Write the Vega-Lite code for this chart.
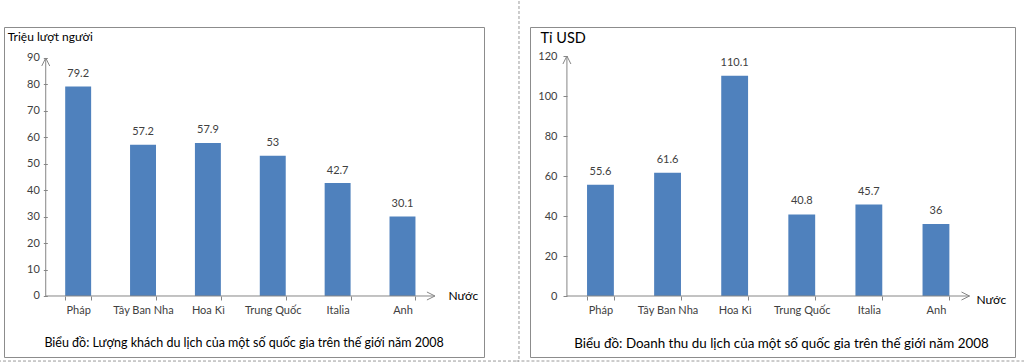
{
  "$schema": "https://vega.github.io/schema/vega-lite/v6.json",
  "padding": {"left": -4, "top": 0, "right": 0, "bottom": 0},
  "background": "white",
  "spacing": 46,
  "bounds": "flush",
  "config": {
    "font": "Lato",
    "view": {"stroke": "#8c8c8c", "strokeWidth": 1},
    "axis": {
      "labelFont": "Lato", "labelColor": "#404040", "labelFontSize": 11,
      "tickColor": "#868686", "tickSize": 4, "domain": false, "grid": false,
      "titleFont": "Lato", "titleFontWeight": "normal", "titleColor": "#000000", "titleFontSize": 12,
      "titleAngle": 0, "titleAlign": "left", "titleBaseline": "middle"
    },
    "title": {"font": "Lato", "fontSize": 12.5, "fontWeight": "normal", "color": "#000000", "orient": "bottom", "frame": "group", "anchor": "middle", "baseline": "middle"}
  },
  "datasets": {
    "khach": [
      {"country": "Pháp", "value": 79.2},
      {"country": "Tây Ban Nha", "value": 57.2},
      {"country": "Hoa Kì", "value": 57.9},
      {"country": "Trung Quốc", "value": 53},
      {"country": "Italia", "value": 42.7},
      {"country": "Anh", "value": 30.1}
    ],
    "thu": [
      {"country": "Pháp", "value": 55.6},
      {"country": "Tây Ban Nha", "value": 61.6},
      {"country": "Hoa Kì", "value": 110.1},
      {"country": "Trung Quốc", "value": 40.8},
      {"country": "Italia", "value": 45.7},
      {"country": "Anh", "value": 36}
    ],
    "one": [{}]
  },
  "hconcat": [
    {
      "width": 480,
      "height": 330,
      "title": {"text": "Biểu đồ: Lượng khách du lịch của một số quốc gia trên thế giới năm 2008", "offset": -25},
      "encoding": {
        "x": {"field": "country", "type": "nominal", "sort": null,
          "scale": {"domain": ["Pháp", "Tây Ban Nha", "Hoa Kì", "Trung Quốc", "Italia", "Anh"], "paddingInner": 0.6, "paddingOuter": 1.0326, "align": 0.4717},
          "axis": {"orient": "bottom", "offset": -61, "tickBand": "extent", "labelAngle": 0, "labelPadding": 4,
            "title": "Nước", "titleX": 444, "titleY": -1}},
        "y": {"type": "quantitative",
          "scale": {"domain": [-23.07, 101.72], "nice": false, "zero": false},
          "axis": {"orient": "left", "offset": -43.3, "values": [0, 10, 20, 30, 40, 50, 60, 70, 80, 90], "labelPadding": 4,
            "title": "Triệu lượt người", "titleX": -40, "titleY": 9}}
      },
      "layer": [
        {"data": {"name": "khach"}, "mark": {"type": "bar", "color": "#4F81BD"},
          "encoding": {"x": {"field": "country"}, "y": {"field": "value"}, "y2": {"datum": 0}}},
        {"data": {"name": "one"}, "mark": {"type": "rule", "color": "#9a9a9a", "strokeDash": [3, 2]},
          "encoding": {"x": {"datum": "Anh", "bandPosition": 4.99}, "y": {"datum": 111.55}, "y2": {"datum": -24.6}}},
        {"data": {"name": "one"}, "mark": {"type": "rule", "color": "#9a9a9a", "strokeDash": [3, 2]},
          "encoding": {"x": {"datum": "Pháp", "bandPosition": -2.59}, "x2": {"datum": "Anh", "bandPosition": 4.99}, "y": {"datum": -24.6}}},
        {"data": {"name": "khach"}, "mark": {"type": "text", "baseline": "middle", "dy": -12.5, "fontSize": 11, "color": "#404040"},
          "encoding": {"x": {"field": "country"}, "y": {"field": "value"}, "text": {"field": "value", "type": "quantitative"}}},
        {"data": {"name": "one"}, "mark": {"type": "rule", "color": "#868686"},
          "encoding": {"x": {"datum": "Pháp", "bandPosition": -0.75}, "y": {"datum": 0}, "y2": {"datum": 90}}},
        {"data": {"name": "one"}, "mark": {"type": "rule", "color": "#868686"},
          "encoding": {"x": {"datum": "Pháp", "bandPosition": -0.75}, "x2": {"datum": "Anh", "bandPosition": 1.75}, "y": {"datum": 0}}},
        {"data": {"name": "one"}, "mark": {"type": "point", "filled": false, "shape": "M-0.5,1L0,0L0.5,1", "size": 256, "color": "#868686", "strokeWidth": 1, "opacity": 1},
          "encoding": {"x": {"datum": "Pháp", "bandPosition": -0.75}, "y": {"datum": 90}}},
        {"data": {"name": "one"}, "mark": {"type": "point", "filled": false, "shape": "M-1,-0.5L0,0L-1,0.5", "size": 256, "color": "#868686", "strokeWidth": 1, "opacity": 1},
          "encoding": {"x": {"datum": "Anh", "bandPosition": 1.75}, "y": {"datum": 0}}}
      ]
    },
    {
      "width": 485,
      "height": 330,
      "title": {"text": "Biểu đồ: Doanh thu du lịch của một số quốc gia trên thế giới năm 2008", "offset": -25, "dx": 9, "fontSize": 13.4},
      "encoding": {
        "x": {"field": "country", "type": "nominal", "sort": null,
          "scale": {"domain": ["Pháp", "Tây Ban Nha", "Hoa Kì", "Trung Quốc", "Italia", "Anh"], "paddingInner": 0.6, "paddingOuter": 0.914, "align": 0.465},
          "axis": {"orient": "bottom", "offset": -61, "tickBand": "extent", "labelAngle": 0, "labelPadding": 4,
            "title": "Nước", "titleX": 446, "titleY": 3}},
        "y": {"type": "quantitative",
          "scale": {"domain": [-30.5, 134.5], "nice": false, "zero": false},
          "axis": {"orient": "left", "offset": -37, "values": [0, 20, 40, 60, 80, 100, 120], "labelPadding": 6,
            "title": "Tỉ USD", "titleFontSize": 14.5, "titleX": -27, "titleY": 11}}
      },
      "layer": [
        {"data": {"name": "thu"}, "mark": {"type": "bar", "color": "#4F81BD"},
          "encoding": {"x": {"field": "country"}, "y": {"field": "value"}, "y2": {"datum": 0}}},
        {"data": {"name": "one"}, "mark": {"type": "rule", "color": "#9a9a9a", "strokeDash": [3, 2]},
          "encoding": {"x": {"datum": "Pháp", "bandPosition": -2.63}, "x2": {"datum": "Anh", "bandPosition": 3.78}, "y": {"datum": -32.5}}},
        {"data": {"name": "thu"}, "mark": {"type": "text", "baseline": "middle", "dy": -13, "fontSize": 11, "color": "#404040"},
          "encoding": {"x": {"field": "country"}, "y": {"field": "value"}, "text": {"field": "value", "type": "quantitative"}}},
        {"data": {"name": "one"}, "mark": {"type": "rule", "color": "#868686"},
          "encoding": {"x": {"datum": "Pháp", "bandPosition": -0.75}, "y": {"datum": 0}, "y2": {"datum": 120}}},
        {"data": {"name": "one"}, "mark": {"type": "rule", "color": "#868686"},
          "encoding": {"x": {"datum": "Pháp", "bandPosition": -0.75}, "x2": {"datum": "Anh", "bandPosition": 1.75}, "y": {"datum": 0}}},
        {"data": {"name": "one"}, "mark": {"type": "point", "filled": false, "shape": "M-0.5,1L0,0L0.5,1", "size": 256, "color": "#868686", "strokeWidth": 1, "opacity": 1},
          "encoding": {"x": {"datum": "Pháp", "bandPosition": -0.75}, "y": {"datum": 120}}},
        {"data": {"name": "one"}, "mark": {"type": "point", "filled": false, "shape": "M-1,-0.5L0,0L-1,0.5", "size": 256, "color": "#868686", "strokeWidth": 1, "opacity": 1},
          "encoding": {"x": {"datum": "Anh", "bandPosition": 1.75}, "y": {"datum": 0}}}
      ]
    }
  ]
}
